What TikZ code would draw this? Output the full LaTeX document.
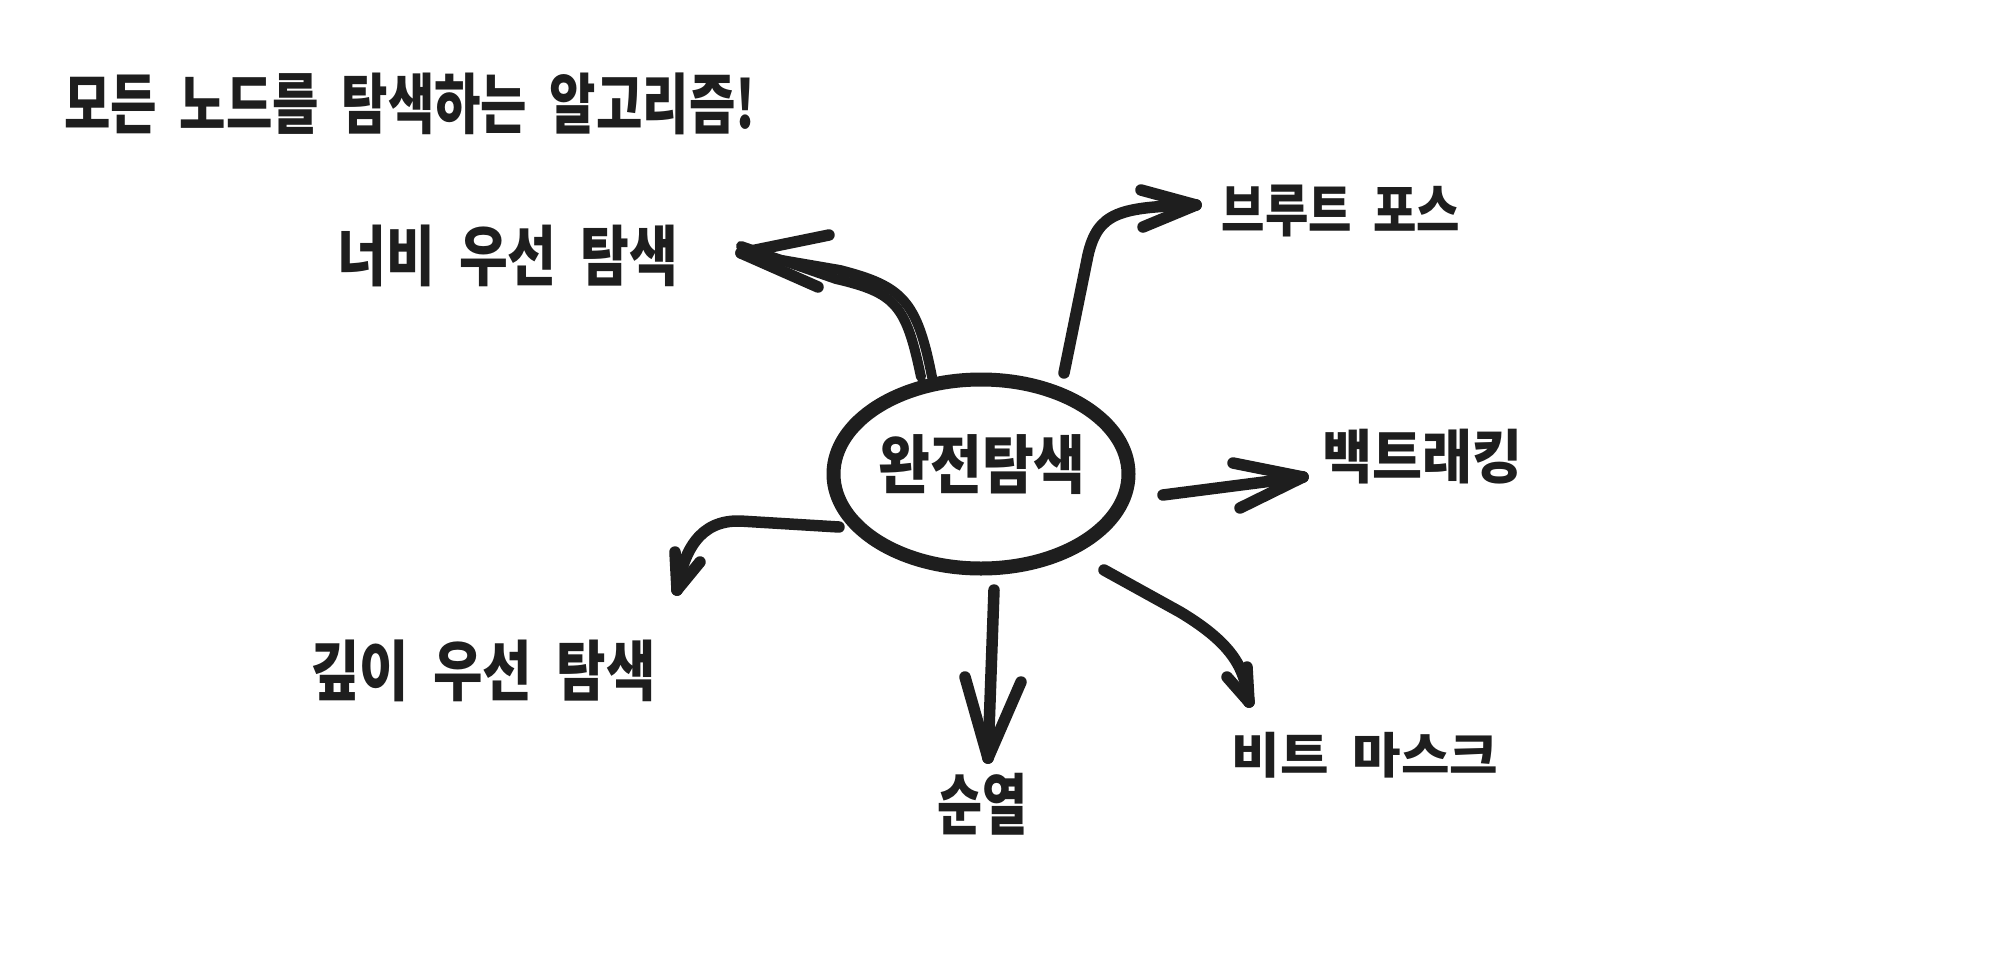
\documentclass[tikz,border=0pt]{standalone}
\usepackage{fontspec}
\usepackage{graphicx}
\usetikzlibrary{shapes.geometric}
\newfontfamily\kr{Noto Sans CJK KR}
\definecolor{ink}{HTML}{1E1E1E}
\newcommand\fitbox[3]{\resizebox*{#1pt}{#2pt}{\kr\bfseries #3}}
\newcommand\wsp{\hspace{0.45em}}
\begin{document}
\begin{tikzpicture}[x=1pt,y=-1pt,
  conn/.style={draw=ink,line width=11.5pt,line cap=round,line join=round},
  lbl/.style={inner sep=0pt,text=ink}]
\useasboundingbox[fill=white] (0,0) rectangle (1990,964);

% title and labels
\node[lbl] (title) at (410,104) {\fitbox{691}{62}{모든\wsp 노드를\wsp 탐색하는\wsp 알고리즘!}};
\node[lbl] (bfs)   at (508,256) {\fitbox{340}{62}{너비\wsp 우선\wsp 탐색}};
\node[lbl] (brute) at (1341,211) {\fitbox{238}{52}{브루트\wsp 포스}};
\node[lbl] (back)  at (1422,457) {\fitbox{200}{55}{백트래킹}};
\node[lbl] (dfs)   at (483,671) {\fitbox{345}{62}{깊이\wsp 우선\wsp 탐색}};
\node[lbl] (perm)  at (982,804) {\fitbox{90}{62}{순열}};
\node[lbl] (bit)   at (1365,755) {\fitbox{266}{46}{비트\wsp 마스크}};

% centre
\node[draw=ink,line width=14pt,ellipse,minimum width=295pt,minimum height=189pt,inner sep=0pt] (c) at (981,474) {};
\node[lbl] (ct) at (982,465) {\fitbox{207}{60}{완전탐색}};

% connector end points
\coordinate (a1s) at (932,377); \coordinate (a1t) at (741,253);
\coordinate (a2s) at (1064,373); \coordinate (a2t) at (1196,205);
\coordinate (a3s) at (1163,495); \coordinate (a3t) at (1303,477);
\coordinate (a4s) at (839,527); \coordinate (a4t) at (677,590);
\coordinate (a5s) at (994,590); \coordinate (a5t) at (988,758);
\coordinate (a6s) at (1104,570); \coordinate (a6t) at (1249,702);

% to 너비 우선 탐색 (double stroke)
\draw[conn,line width=10pt] (a1s) .. controls (917,300) and (902,286) .. (840,270) -- (a1t);
\draw[conn,line width=10pt] ([xshift=-11pt]a1s) .. controls (906,305) and (896,293) .. (836,279) -- ([yshift=7pt]a1t);
\draw[conn] (a1t) -- ++(88,-18);
\draw[conn] (a1t) -- ++(77,34);

% to 브루트 포스
\draw[conn] (a2s) -- (1088,255) .. controls (1098,212) and (1120,207) .. (a2t);
\draw[conn] (a2t) -- ++(-55,-15);
\draw[conn] (a2t) -- ++(-53,22);

% to 백트래킹
\draw[conn] (a3s) -- (a3t);
\draw[conn] (a3t) -- ++(-70,-14);
\draw[conn] (a3t) -- ++(-63,31);

% to 깊이 우선 탐색
\draw[conn] (a4s) -- (740,521) .. controls (700,520) and (684,550) .. (a4t);
\draw[conn] (a4t) -- ++(-2,-38);
\draw[conn] (a4t) -- ++(23,-28);

% to 순열
\draw[conn] (a5s) -- (a5t);
\draw[conn] (a5t) -- ++(-23,-81);
\draw[conn] (a5t) -- ++(33,-76);

% to 비트 마스크
\draw[conn] (a6s) -- (1180,612) .. controls (1235,645) and (1245,670) .. (a6t);
\draw[conn] (a6t) -- ++(-22,-25);
\draw[conn] (a6t) -- ++(-2,-35);
\end{tikzpicture}
\end{document}
